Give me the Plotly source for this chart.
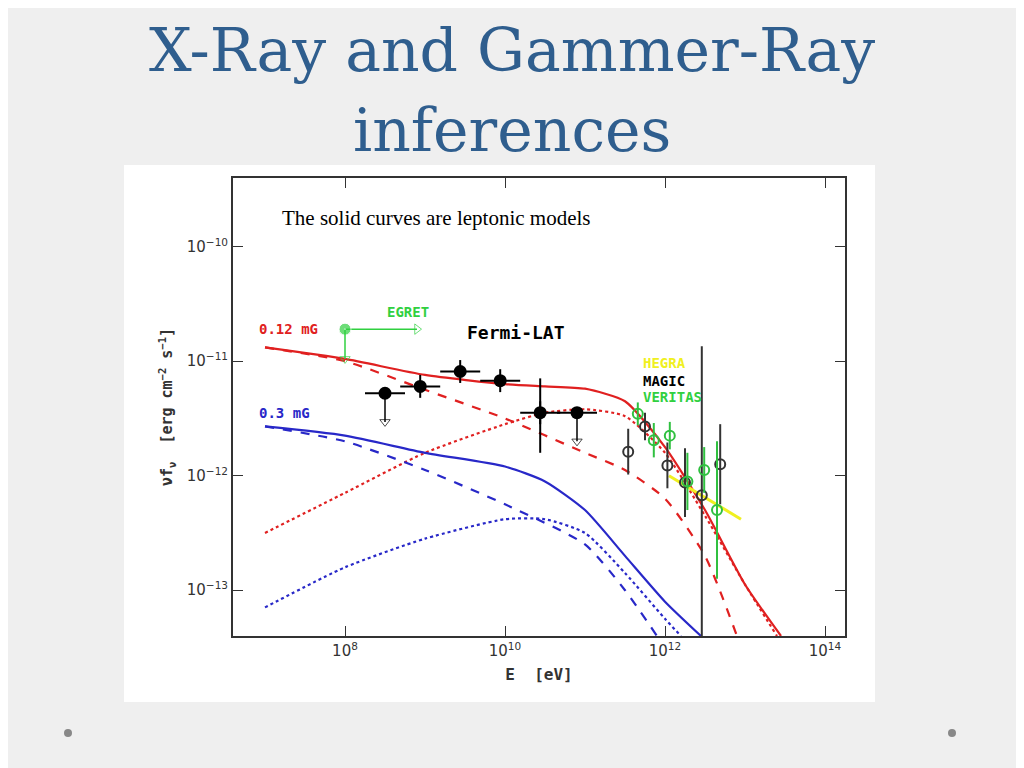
import numpy as np
import plotly.graph_objects as go

# model curves: log10(E) vs log10(nuFnu)
red_solid_x = [7, 8, 9, 10, 10.5, 11, 11.5, 12, 12.5, 13, 13.45]
red_solid_y = [-10.88, -10.98, -11.12, -11.2, -11.22, -11.24, -11.35, -11.75, -12.3, -12.95, -13.4]
red_dash_x = [7, 8, 9, 10, 11, 11.5, 12, 12.5, 12.9]
red_dash_y = [-10.88, -11.0, -11.25, -11.5, -11.8, -11.95, -12.2, -12.7, -13.4]
red_dot_x = [7, 8, 9, 10, 10.5, 11, 11.5, 12, 12.5, 13, 13.4]
red_dot_y = [-12.5, -12.15, -11.8, -11.55, -11.45, -11.42, -11.48, -11.8, -12.35, -12.95, -13.4]
blue_solid_x = [7, 8, 9, 10, 10.5, 11, 11.5, 12, 12.45]
blue_solid_y = [-11.57, -11.65, -11.8, -11.92, -12.05, -12.3, -12.7, -13.1, -13.4]
blue_dash_x = [7, 8, 9, 10, 11, 11.5, 11.9]
blue_dash_y = [-11.57, -11.7, -11.95, -12.25, -12.6, -13.0, -13.4]
blue_dot_x = [7, 8, 9, 10, 10.5, 11, 11.5, 12, 12.2]
blue_dot_y = [-13.15, -12.8, -12.55, -12.38, -12.38, -12.5, -12.85, -13.25, -13.4]

# data points
fermi_x = [8.5, 8.94, 9.44, 9.94, 10.44, 10.9]
fermi_y = [-11.28, -11.22, -11.09, -11.17, -11.45, -11.45]
fermi_ul = [True, False, False, False, False, True]
magic_x = [11.54, 11.75, 12.03, 12.25, 12.46, 12.69]
magic_y = [-11.79, -11.57, -11.91, -12.06, -12.17, -11.9]
magic_err = [0.2, 0.12, 0.2, 0.3, 1.3, 0.35]
veritas_x = [11.66, 11.86, 12.06, 12.28, 12.49, 12.65]
veritas_y = [-11.46, -11.69, -11.65, -12.05, -11.95, -12.3]
veritas_err = [0.1, 0.15, 0.12, 0.25, 0.2, 0.6]
hegra_x = [12.05, 12.95]
hegra_y = [-12.0, -12.38]

P = lambda a: [10 ** v for v in a]
OFF = 8  # page margin of the browser

def px(x):
    return (x - OFF) / 1024

def py(y):
    return 1 - (y - OFF) / 768

fig = go.Figure()
def curve(x, y, color, dash):
    fig.add_trace(go.Scatter(x=P(x), y=P(y), mode="lines", line=dict(color=color, width=2.2, dash=dash, shape="spline", smoothing=0.6), showlegend=False))

curve(red_solid_x, red_solid_y, "#e02020", "solid")
curve(red_dash_x, red_dash_y, "#e02020", "dash")
curve(red_dot_x, red_dot_y, "#e02020", "dot")
curve(blue_solid_x, blue_solid_y, "#2828c8", "solid")
curve(blue_dash_x, blue_dash_y, "#2828c8", "dash")
curve(blue_dot_x, blue_dot_y, "#2828c8", "dot")

fig.add_trace(go.Scatter(x=P(hegra_x), y=P(hegra_y), mode="lines", line=dict(color="#f0f020", width=3), showlegend=False))

for xs, ys, es, col in [(magic_x, magic_y, magic_err, "#333"), (veritas_x, veritas_y, veritas_err, "#30c040")]:
    for x, y, e in zip(xs, ys, es):
        fig.add_trace(go.Scatter(x=[10 ** x] * 2, y=[10 ** (y - e), 10 ** (y + e)], mode="lines", line=dict(color=col, width=2), showlegend=False))
    fig.add_trace(go.Scatter(x=P(xs), y=P(ys), mode="markers", marker=dict(symbol="circle-open", size=10, color=col, line=dict(width=2)), showlegend=False))

for x, y, ul in zip(fermi_x, fermi_y, fermi_ul):
    fig.add_trace(go.Scatter(x=[10 ** (x - 0.25), 10 ** (x + 0.25)], y=[10 ** y] * 2, mode="lines", line=dict(color="black", width=2), showlegend=False))
    if ul:
        fig.add_trace(go.Scatter(x=[10 ** x] * 2, y=[10 ** y, 10 ** (y - 0.25)], mode="lines+markers", line=dict(color="black", width=1.5),
                                 marker=dict(symbol=["circle", "triangle-down-open"], size=[1, 9], color="black"), showlegend=False))
    else:
        fig.add_trace(go.Scatter(x=[10 ** x] * 2, y=[10 ** (y - 0.1), 10 ** (y + 0.1)], mode="lines", line=dict(color="black", width=2), showlegend=False))
fig.add_trace(go.Scatter(x=[10 ** 10.44] * 2, y=[10 ** -11.8, 10 ** -11.15], mode="lines", line=dict(color="black", width=2), showlegend=False))
fig.add_trace(go.Scatter(x=P(fermi_x), y=P(fermi_y), mode="markers", marker=dict(size=13, color="black"), showlegend=False))

# EGRET
fig.add_trace(go.Scatter(x=[1e8, 10 ** 8.9], y=[10 ** -10.72] * 2, mode="lines+markers", line=dict(color="#30d040", width=1.5),
                         marker=dict(symbol=["circle", "triangle-right-open"], size=[12, 9], color="#30d040"), showlegend=False))
fig.add_trace(go.Scatter(x=[1e8, 1e8], y=[10 ** -10.72, 10 ** -10.98], mode="lines+markers", line=dict(color="#30d040", width=1.5),
                         marker=dict(symbol=["circle", "triangle-down-open"], size=[1, 9], color="#30d040"), showlegend=False))

labels = [("0.12 mG", 6.9, -10.72, "#e02020"), ("0.3 mG", 6.9, -11.45, "#2828c8"),
          ("Fermi-LAT", 9.5, -10.75, "black"), ("EGRET", 8.5, -10.57, "#30d040"),
          ("HEGRA", 11.7, -11.02, "#f0f020"), ("MAGIC", 11.7, -11.17, "black"),
          ("VERITAS", 11.7, -11.31, "#30d040")]
for t, x, y, c in labels:
    fig.add_annotation(x=x, y=y, text="<b>" + t + "</b>", showarrow=False, xanchor="left", yanchor="middle",
                       font=dict(family="DejaVu Sans Mono", size=14 if t != "Fermi-LAT" else 18, color=c))

fig.add_shape(type="rect", xref="paper", yref="paper", x0=px(124), x1=px(875), y0=py(702), y1=py(165),
              fillcolor="white", line=dict(width=0), layer="below")
for cx in [68, 952]:
    fig.add_shape(type="circle", xref="paper", yref="paper", x0=px(cx - 4), x1=px(cx + 4),
                  y0=py(737), y1=py(729), fillcolor="#888", line=dict(width=0))

fig.add_annotation(xref="paper", yref="paper", x=px(512), y=py(50), text="X-Ray and Gammer-Ray", showarrow=False,
                   yanchor="middle", font=dict(family="DejaVu Serif", size=60, color="#2f5e8e"))
fig.add_annotation(xref="paper", yref="paper", x=px(512), y=py(130), text="inferences", showarrow=False,
                   yanchor="middle", font=dict(family="DejaVu Serif", size=60, color="#2f5e8e"))
fig.add_annotation(xref="paper", yref="paper", x=px(280), y=py(218), text="The solid curves are leptonic models",
                   showarrow=False, xanchor="left", yanchor="middle", font=dict(family="Liberation Serif", size=21, color="black"))

axis = dict(type="log", showgrid=False, zeroline=False, showline=True, mirror="allticks", linecolor="#333", linewidth=2,
            ticks="inside", ticklen=10, tickcolor="#333", tickfont=dict(family="DejaVu Sans", size=15, color="#333"))
fig.update_layout(
    width=1024, height=768, margin=dict(l=0, r=0, t=0, b=0),
    paper_bgcolor="#efefef", plot_bgcolor="white",
    xaxis=dict(axis, domain=[px(233), px(845)], range=[6.6, 14.25],
               tickvals=[1e8, 1e10, 1e12, 1e14], ticktext=["10<sup>8</sup>", "10<sup>10</sup>", "10<sup>12</sup>", "10<sup>14</sup>"],
               title=dict(text="<b>E  [eV]</b>", font=dict(family="DejaVu Sans Mono", size=16, color="#333"), standoff=10)),
    yaxis=dict(axis, domain=[py(636), py(178)], range=[-13.4, -9.4],
               tickvals=[1e-10, 1e-11, 1e-12, 1e-13],
               ticktext=["10<sup>−10</sup>", "10<sup>−11</sup>", "10<sup>−12</sup>", "10<sup>−13</sup>"],
               title=dict(text="<b>νf<sub>ν</sub>  [erg cm<sup>−2</sup> s<sup>−1</sup>]</b>", font=dict(family="DejaVu Sans Mono", size=15, color="#333"), standoff=10)),
)
fig.write_html("out.html")
